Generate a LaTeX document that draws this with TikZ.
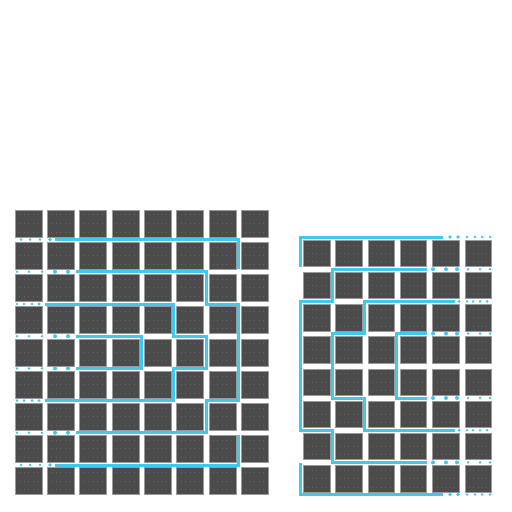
\documentclass[tikz,border=0pt]{standalone}
\definecolor{wireblue}{HTML}{40C8EE}
\definecolor{cellgray}{HTML}{4B4B4B}
\definecolor{celledge}{HTML}{9A9A9A}
\definecolor{pingray}{HTML}{646464}
\begin{document}
\begin{tikzpicture}[x=0.2mm, y=-0.2mm,
  cell/.style={fill=cellgray, draw=celledge, line width=0.12mm},
  wire/.style={draw=wireblue, line width=0.6mm},
  pip/.style={fill=wireblue}]
\useasboundingbox[fill=white] (0,0) rectangle (512,512);
% left array, 8 x 9
\foreach \c in {0,...,7}
  \foreach \r in {0,...,8} {
    \draw[cell] (15+32.3*\c,210+32.2*\r) rectangle +(27,27);
    \foreach \i in {0,...,4} \foreach \j in {0,...,2}
      \fill[pingray] (19+32.3*\c+4.5*\i,214.5+32.2*\r+8.5*\j) rectangle +(1,1);
  }
% right array, 6 x 8
\foreach \c in {0,...,5}
  \foreach \r in {0,...,7} {
    \draw[cell] (303.3+32.3*\c,240+32.2*\r) rectangle +(26.5,26.5);
    \foreach \i in {0,...,4} \foreach \j in {0,...,2}
      \fill[pingray] (307.3+32.3*\c+4.4*\i,244.5+32.2*\r+8.3*\j) rectangle +(1,1);
  }
% left wires
\draw[wire] (55,239.6) -- (238.4,239.6) -- (238.4,269);
\draw[wire] (76,271.8) -- (206.1,271.8) -- (206.1,304) -- (238.4,304) -- (238.4,400.6)
  -- (206.1,400.6) -- (206.1,432.8) -- (76,432.8);
\draw[wire] (45,304) -- (173.8,304) -- (173.8,336.2) -- (206.1,336.2) -- (206.1,368.4)
  -- (173.8,368.4) -- (173.8,400.6) -- (45,400.6);
\draw[wire] (76,336.2) -- (141.5,336.2) -- (141.5,368.4) -- (76,368.4);
\draw[wire] (238.4,435) -- (238.4,465) -- (55,465);
% left wire ends
\foreach \y in {239.6,465}
  \foreach \x/\s in {21/0.28,30/0.28,40/0.28,50/0.38}
    \fill[pip] (\x,\y) circle (\s mm);
\foreach \y in {271.8,336.2,368.4,432.8}
  \foreach \x/\s in {17/0.28,29/0.28,42/0.28,55/0.4,68/0.4}
    \fill[pip] (\x,\y) circle (\s mm);
\foreach \y in {304,400.6}
  \foreach \x/\s in {17/0.28,24/0.28,32/0.28,39/0.32}
    \fill[pip] (\x,\y) circle (\s mm);
% right wires
\draw[wire] (443,237) -- (300,237) -- (300,267);
\draw[wire] (427,269.2) -- (332,269.2) -- (332,301.4) -- (300,301.4) -- (300,430.2)
  -- (332,430.2) -- (332,462.4) -- (427,462.4);
\draw[wire] (455,301.4) -- (364.3,301.4) -- (364.3,333.6) -- (332,333.6) -- (332,398)
  -- (364.3,398) -- (364.3,430.2) -- (455,430.2);
\draw[wire] (427,333.6) -- (396.7,333.6) -- (396.7,398) -- (427,398);
\draw[wire] (300,463) -- (300,494.5) -- (443,494.5);
% right wire ends
\foreach \y in {237,494.5}
  \foreach \x/\s in {450/0.38,458/0.38,467/0.28,475/0.28,482/0.28,490/0.28}
    \fill[pip] (\x,\y) circle (\s mm);
\foreach \y in {269.2,333.6,398,462.4}
  \foreach \x/\s in {433/0.4,446/0.4,457/0.4,468/0.28,480/0.28,490/0.28}
    \fill[pip] (\x,\y) circle (\s mm);
\foreach \y in {301.4,430.2}
  \foreach \x/\s in {459/0.32,467/0.28,473/0.28,480/0.28,487/0.28}
    \fill[pip] (\x,\y) circle (\s mm);
\end{tikzpicture}
\end{document}
